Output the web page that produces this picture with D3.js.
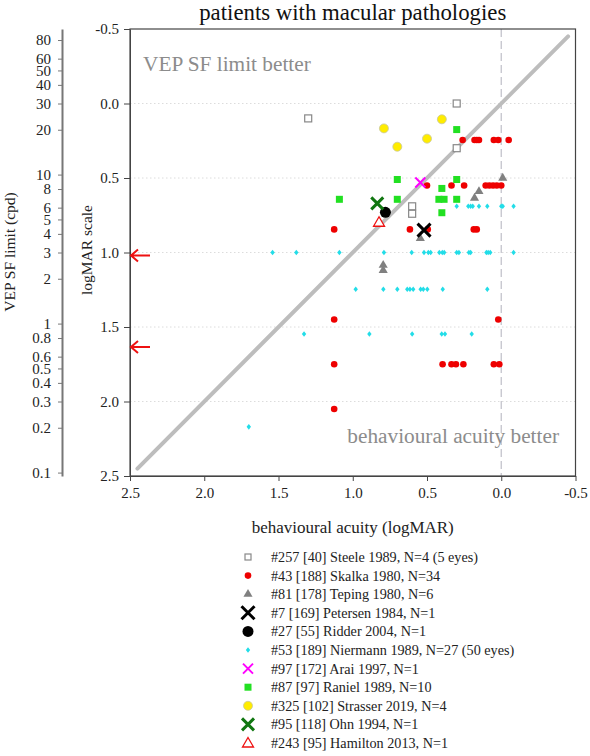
<!DOCTYPE html>
<html>
<head>
<meta charset="utf-8">
<script src="https://cdn.jsdelivr.net/npm/d3@7"></script>
<style>
html,body{margin:0;padding:0;background:#fff;}
svg{display:block;}
text{font-family:"Liberation Serif","Times New Roman",serif;}
</style>
</head>
<body>
<svg id="chart" width="590" height="756"></svg>
<script>
// ---------- DATA (behavioural acuity logMAR, VEP SF limit logMAR) ----------
const steele   = [[1.30,0.10],[0.30,0.00],[0.30,0.30],[0.60,0.69],[0.60,0.74]];
const skalka   = [[0.26,0.245],[0.18,0.245],[0.165,0.245],[0.15,0.245],[0.05,0.245],[0.02,0.245],[-0.05,0.245],
                  [0.50,0.55],[0.335,0.55],[0.25,0.55],[0.105,0.55],[0.08,0.55],[0.055,0.55],[0.03,0.55],[0.0,0.55],
                  [1.125,0.845],[0.615,0.845],[0.495,0.845],[0.185,0.845],[0.165,0.845],
                  [1.125,1.45],[0.02,1.45],
                  [1.125,1.75],[0.395,1.75],[0.335,1.75],[0.305,1.75],[0.255,1.75],[0.05,1.75],[0.013,1.75],
                  [1.125,2.05]];
const teping   = [[-0.01,0.50],[0.15,0.59],[0.18,0.635],[0.545,0.905],[0.795,1.085],[0.795,1.12]];
const petersen = [[0.52,0.85]];
const ridder   = [[0.78,0.73]];
const niermann = [[0.30,0.69],[0.222,0.69],[0.206,0.69],[0.192,0.69],[0.15,0.69],[0.094,0.69],[0.0,0.69],[-0.01,0.69],[-0.083,0.69],
                  [1.54,1.0],[1.38,1.0],[1.09,1.0],[0.79,1.0],[0.603,1.0],[0.52,1.0],[0.491,1.0],[0.475,1.0],[0.417,1.0],[0.397,1.0],
                  [0.384,1.0],[0.30,1.0],[0.285,1.0],[0.218,1.0],[0.206,1.0],[0.10,1.0],[0.088,1.0],[0.074,1.0],[-0.083,1.0],
                  [0.98,1.247],[0.794,1.247],[0.70,1.247],[0.633,1.247],[0.615,1.247],[0.593,1.247],[0.543,1.247],[0.525,1.247],[0.498,1.247],[0.394,1.247],[0.094,1.247],
                  [1.328,1.547],[0.888,1.547],[0.60,1.547],[0.401,1.547],[0.379,1.547],[0.199,1.547],
                  [1.70,2.17]];
const arai     = [[0.545,0.53]];
const raniel   = [[0.30,0.175],[0.70,0.51],[0.30,0.51],[1.09,0.643],[0.70,0.643],[0.40,0.57],[0.42,0.643],[0.385,0.643],[0.30,0.643],[0.40,0.733]];
const strasser = [[0.79,0.167],[0.70,0.29],[0.50,0.236],[0.40,0.106]];
const ohn      = [[0.835,0.67]];
const hamilton = [[0.823,0.797]];

const legendLabels = [
  "#257 [40] Steele 1989, N=4 (5 eyes)",
  "#43 [188] Skalka 1980, N=34",
  "#81 [178] Teping 1980, N=6",
  "#7 [169] Petersen 1984, N=1",
  "#27 [55] Ridder 2004, N=1",
  "#53 [189] Niermann 1989, N=27 (50 eyes)",
  "#97 [172] Arai 1997, N=1",
  "#87 [97] Raniel 1989, N=10",
  "#325 [102] Strasser 2019, N=4",
  "#95 [118] Ohn 1994, N=1",
  "#243 [95] Hamilton 2013, N=1"
];

const logmarTicks = [-0.5, 0.0, 0.5, 1.0, 1.5, 2.0, 2.5];
const gridTicks   = [0.0, 0.5, 1.0, 1.5, 2.0];
const cpdTicks    = [80,60,50,40,30,20,10,8,6,5,4,3,2,1,0.8,0.6,0.5,0.4,0.3,0.2,0.1];
const identityLine = [2.45, -0.45];
const arrowLevels  = [1.02, 1.635];
const dashedX      = 0.0;

// ---------- LAYOUT ----------
const svg = d3.select("#chart");
const L = 130, R = 575.5, T = 29, B = 476;
const x = d3.scaleLinear().domain([2.5, -0.5]).range([L, R]);
const y = d3.scaleLinear().domain([-0.5, 2.5]).range([T, B]);
const yc = d3.scaleLog().domain([30/Math.pow(10,-0.5), 30/Math.pow(10,2.5)]).range([T, B]);

const fmt1 = v => v.toFixed(1);

// title
svg.append("text").attr("x", (L+R)/2).attr("y", 20).attr("text-anchor","middle")
  .attr("font-size", 22.8).attr("fill","#111").text("patients with macular pathologies");

// grid
svg.append("g").selectAll("line").data(gridTicks).join("line")
  .attr("x1", L).attr("x2", R).attr("y1", d=>y(d)).attr("y2", d=>y(d))
  .attr("stroke","#dcdcdc").attr("stroke-width",1).attr("stroke-dasharray","1.5,2.5");

// dashed vertical at 0
svg.append("line").attr("x1", x(dashedX)).attr("x2", x(dashedX)).attr("y1", T).attr("y2", B)
  .attr("stroke","#c4c4cc").attr("stroke-width",1.3).attr("stroke-dasharray","8,4");

// identity line
svg.append("line").attr("x1", x(identityLine[0])).attr("y1", y(identityLine[0]))
  .attr("x2", x(identityLine[1])).attr("y2", y(identityLine[1]))
  .attr("stroke","#bdbdbd").attr("stroke-width",4).attr("stroke-linecap","round");

// annotations
svg.append("text").attr("x",143).attr("y",71).attr("font-size",21.3).attr("fill","#8c8c8c").text("VEP SF limit better");
svg.append("text").attr("x",559).attr("y",443).attr("text-anchor","end").attr("font-size",21.3).attr("fill","#8c8c8c").text("behavioural acuity better");

// frame
svg.append("rect").attr("x",L).attr("y",T).attr("width",R-L).attr("height",B-T)
  .attr("fill","none").attr("stroke","#444").attr("stroke-width",1.2);

// axes
const axL = svg.append("g").attr("transform",`translate(${L},0)`)
  .call(d3.axisLeft(y).tickValues(logmarTicks).tickFormat(fmt1).tickSize(6).tickSizeOuter(0).tickPadding(5));
const axB = svg.append("g").attr("transform",`translate(0,${B})`)
  .call(d3.axisBottom(x).tickValues(logmarTicks).tickFormat(fmt1).tickSize(5).tickSizeOuter(0).tickPadding(6));
const axC = svg.append("g").attr("transform",`translate(62,0)`)
  .call(d3.axisLeft(yc).tickValues(cpdTicks).tickFormat(d=>String(d)).tickSize(4).tickSizeOuter(0).tickPadding(7));
[axL, axB, axC].forEach(g=>{
  g.selectAll("text").attr("font-size",15).attr("fill","#222").attr("font-family",'"Liberation Serif","Times New Roman",serif');
  g.selectAll("line").attr("stroke","#444");
  g.select(".domain").attr("stroke","#444");
});
axC.select(".domain").attr("stroke","#777").attr("stroke-width",2);
axC.selectAll("line").attr("stroke","#777");

// axis titles
svg.append("text").attr("transform","translate(15,252) rotate(-90)").attr("text-anchor","middle")
  .attr("font-size",15.5).attr("fill","#222").text("VEP SF limit (cpd)");
svg.append("text").attr("transform","translate(92,250) rotate(-90)").attr("text-anchor","middle")
  .attr("font-size",15.5).attr("fill","#222").text("logMAR scale");
svg.append("text").attr("x",(L+R)/2).attr("y",533).attr("text-anchor","middle")
  .attr("font-size",17).attr("fill","#222").text("behavioural acuity (logMAR)");

// arrows
const arr = svg.append("g");
arrowLevels.forEach(v=>{
  const yy = y(v);
  arr.append("path").attr("d",`M${L+20},${yy} L${L+1},${yy} M${L+8},${yy-6} L${L+1},${yy} L${L+8},${yy+6}`)
    .attr("fill","none").attr("stroke","#ee1111").attr("stroke-width",2);
});

// ---------- markers ----------
const styles = [
  {data:steele,   draw:(g)=>g.append("rect").attr("x",-3.5).attr("y",-3.5).attr("width",7).attr("height",7).attr("fill","#fff").attr("stroke","#888").attr("stroke-width",1.2)},
  {data:skalka,   draw:(g)=>g.append("circle").attr("r",3.3).attr("fill","#ee0000")},
  {data:teping,   draw:(g)=>g.append("path").attr("d",d3.symbol(d3.symbolTriangle,36)()).attr("fill","#808080")},
  {data:petersen, draw:(g)=>g.append("path").attr("d","M-6.5,-6.5L6.5,6.5M-6.5,6.5L6.5,-6.5").attr("stroke","#000").attr("stroke-width",3).attr("fill","none")},
  {data:ridder,   draw:(g)=>g.append("circle").attr("r",5.5).attr("fill","#000")},
  {data:niermann, draw:(g)=>g.append("path").attr("d","M0,-2.8L2.2,0L0,2.8L-2.2,0Z").attr("fill","#22dde8")},
  {data:arai,     draw:(g)=>g.append("path").attr("d","M-5,-5L5,5M-5,5L5,-5").attr("stroke","#ff00ff").attr("stroke-width",2).attr("fill","none")},
  {data:raniel,   draw:(g)=>g.append("rect").attr("x",-3.5).attr("y",-3.5).attr("width",7).attr("height",7).attr("fill","#22e022")},
  {data:strasser, draw:(g)=>g.append("circle").attr("r",4.5).attr("fill","#ffec00").attr("stroke","#c8c8a0").attr("stroke-width",0.8)},
  {data:ohn,      draw:(g)=>g.append("path").attr("d","M-6,-6L6,6M-6,6L6,-6").attr("stroke","#117711").attr("stroke-width",3).attr("fill","none")},
  {data:hamilton, draw:(g)=>g.append("path").attr("d","M0,-5.5L5.5,4L-5.5,4Z").attr("stroke","#ee1111").attr("stroke-width",1.3).attr("fill","#fff")}
];

const pts = svg.append("g");
styles.forEach(s=>{
  s.data.forEach(d=>{
    const g = pts.append("g").attr("transform",`translate(${x(d[0])},${y(d[1])})`);
    s.draw(g);
  });
});

// ---------- legend ----------
const leg = svg.append("g");
legendLabels.forEach((lab,i)=>{
  const cy = 557 + i*18.6;
  const g = leg.append("g").attr("transform",`translate(248,${cy})`);
  styles[i].draw(g);
  leg.append("text").attr("x",271).attr("y",cy+5).attr("font-size",14.2).attr("fill","#222").text(lab);
});
leg.selectAll("g").filter((d,i)=>i===0).select("rect").attr("x",-3).attr("y",-3).attr("width",6).attr("height",6);
</script>
</body>
</html>
